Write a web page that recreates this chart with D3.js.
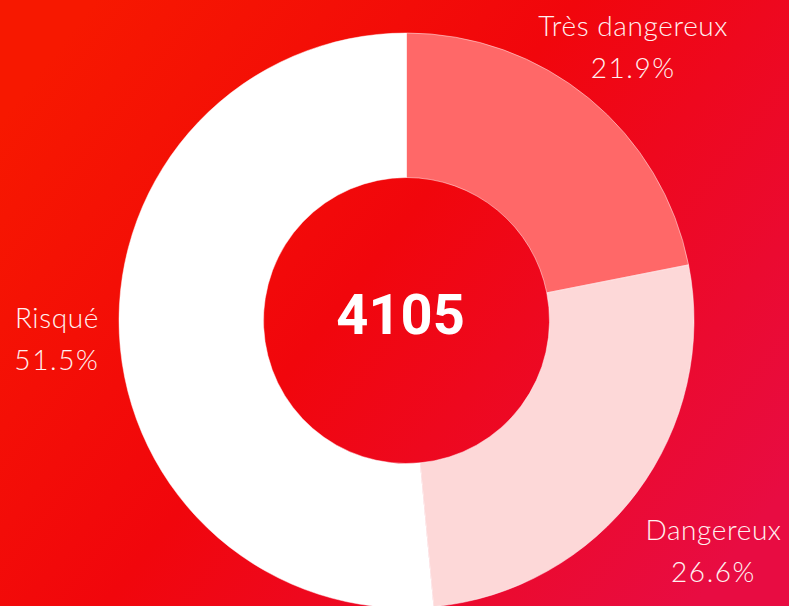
<!DOCTYPE html>
<html>
<head>
<meta charset="utf-8">
<script src="https://cdn.jsdelivr.net/npm/d3@7"></script>
<style>
  html, body { margin: 0; padding: 0; background: #f00a10; }
  svg { display: block; }
</style>
</head>
<body>
<svg id="chart" width="789" height="606"></svg>
<script>
// Risk categories, shares (percent) and the total count shown in the hole
const categories = ["Très dangereux", "Dangereux", "Risqué"];
const shares = [21.9, 26.6, 51.5];
const sliceColors = ["#ff6868", "#fdd8d8", "#ffffff"];
const total = 4105;

// Distance of each label from the centre
const labelRadius = [357, 383, 350];

const W = 789, H = 606;
const cx = 406.5, cy = 320.5;
const outerR = 287.5, innerR = 143;

const svg = d3.select("#chart");

// Background gradient: orange-red on the left to crimson on the right
const defs = svg.append("defs");
const grad = defs.append("linearGradient")
  .attr("id", "bg").attr("x1", "0%").attr("y1", "20%").attr("x2", "100%").attr("y2", "80%");
grad.append("stop").attr("offset", "0%").attr("stop-color", "#f71800");
grad.append("stop").attr("offset", "45%").attr("stop-color", "#f1060c");
grad.append("stop").attr("offset", "100%").attr("stop-color", "#e80c42");
svg.append("rect").attr("width", W).attr("height", H).attr("fill", "url(#bg)");

const pie = d3.pie().sort(null).value(d => d.value);
const arcs = pie(categories.map((c, i) => ({ name: c, value: shares[i], color: sliceColors[i] })));

const arc = d3.arc().innerRadius(innerR).outerRadius(outerR);

const g = svg.append("g").attr("transform", `translate(${cx},${cy})`);

g.selectAll("path.slice")
  .data(arcs)
  .join("path")
  .attr("class", "slice")
  .attr("d", arc)
  .attr("fill", d => d.data.color)
  .attr("stroke", "rgba(255,255,255,0.6)")
  .attr("stroke-width", 0.8);

// Category labels with percentages
const labels = g.selectAll("text.label")
  .data(arcs)
  .join("text")
  .attr("class", "label")
  .attr("transform", (d, i) => {
    const a = (d.startAngle + d.endAngle) / 2;
    const r = labelRadius[i];
    return `translate(${Math.sin(a) * r},${-Math.cos(a) * r})`;
  })
  .attr("text-anchor", "middle")
  .attr("fill", "#fff0f0")
  .style("font-family", "Lato, 'Open Sans', sans-serif")
  .style("font-size", "28px")
  .style("font-weight", 300)
  .style("letter-spacing", "0.6px");

labels.append("tspan")
  .attr("x", 0).attr("y", -9)
  .text(d => d.data.name);
labels.append("tspan")
  .attr("x", 0).attr("y", 33)
  .style("letter-spacing", "1.6px")
  .text(d => d3.format(".1f")(d.data.value) + "%");

// Total in the centre
g.append("text")
  .attr("x", -6).attr("y", 13)
  .attr("text-anchor", "middle")
  .attr("fill", "#ffffff")
  .style("font-family", "Roboto, Inter, sans-serif")
  .style("font-size", "56px")
  .style("font-weight", 700)
  .text(total);
</script>
</body>
</html>
